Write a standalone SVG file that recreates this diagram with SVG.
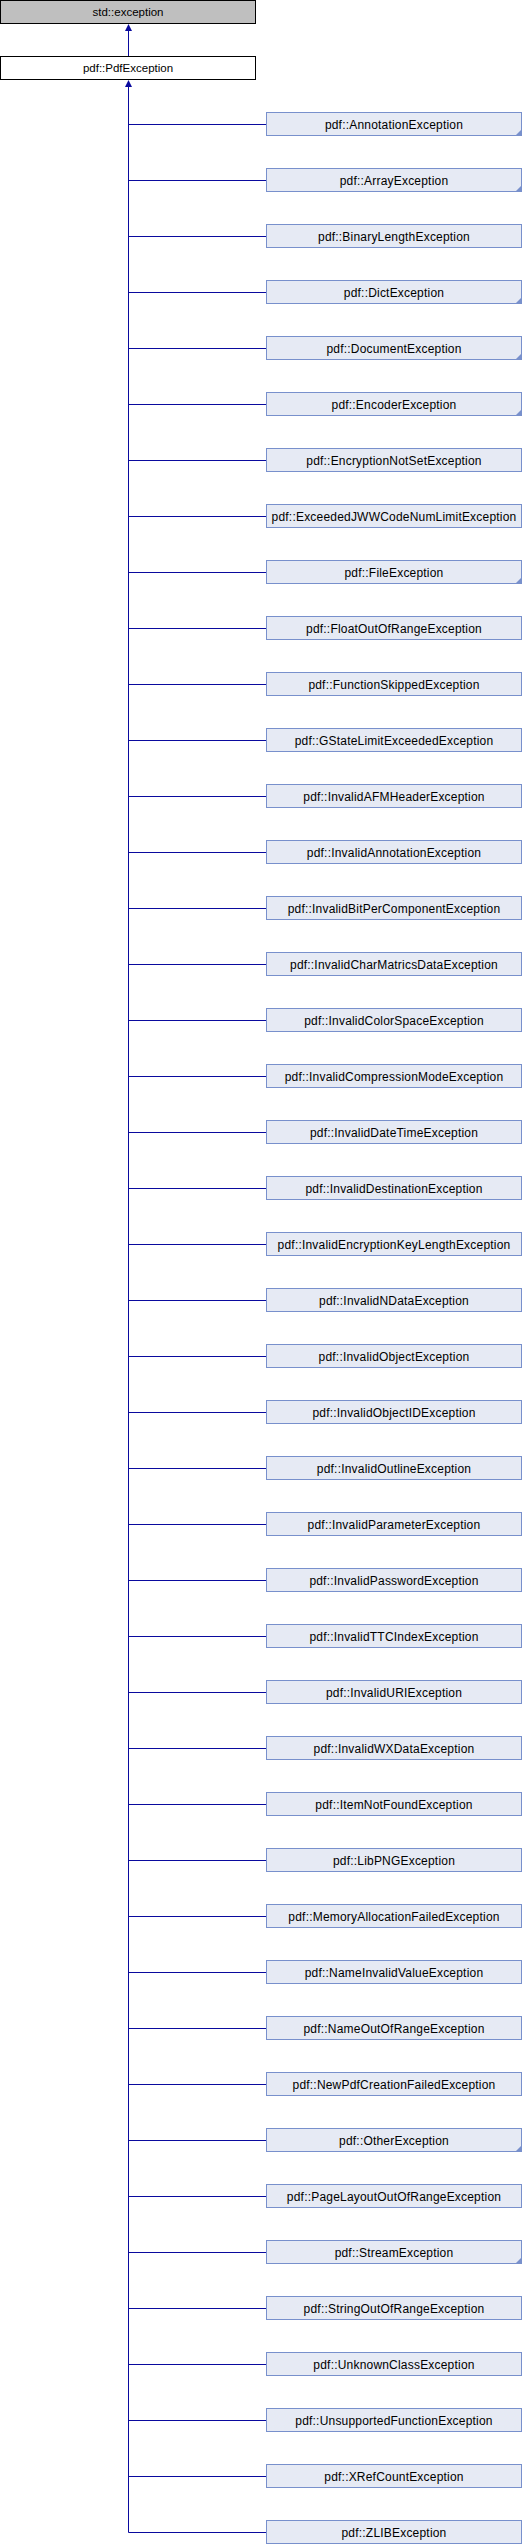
<svg xmlns="http://www.w3.org/2000/svg" width="522" height="2544" viewBox="0 0 522 2544">
<style>
.t{font-family:"Liberation Sans",Arial,sans-serif;font-size:12px;letter-spacing:0.2px;fill:#000;text-anchor:middle}
.tt{font-family:"Liberation Sans",Arial,sans-serif;font-size:11.5px;fill:#000;text-anchor:middle}
.root{fill:#bfbfbf;stroke:#000;stroke-width:1}
.main{fill:#fff;stroke:#000;stroke-width:1}
.cls{fill:#e6eaf4;stroke:#7890cc;stroke-width:1}
.corner{fill:#7890cc;stroke:none}
.e{stroke:#0a0a9e;stroke-width:1;fill:none}
.ah{fill:#0a0a9e}
</style>
<g id="edges">
<path class="e" d="M128.5,56 L128.5,28"/>
<path class="ah" d="M125,31 L128.5,24 L132,31 Z"/>
<path class="e" d="M128.5,2532.5 L128.5,84"/>
<path class="ah" d="M125,87 L128.5,80 L132,87 Z"/>
<path class="e" d="M128.5,124.5H266M128.5,180.5H266M128.5,236.5H266M128.5,292.5H266M128.5,348.5H266M128.5,404.5H266M128.5,460.5H266M128.5,516.5H266M128.5,572.5H266M128.5,628.5H266M128.5,684.5H266M128.5,740.5H266M128.5,796.5H266M128.5,852.5H266M128.5,908.5H266M128.5,964.5H266M128.5,1020.5H266M128.5,1076.5H266M128.5,1132.5H266M128.5,1188.5H266M128.5,1244.5H266M128.5,1300.5H266M128.5,1356.5H266M128.5,1412.5H266M128.5,1468.5H266M128.5,1524.5H266M128.5,1580.5H266M128.5,1636.5H266M128.5,1692.5H266M128.5,1748.5H266M128.5,1804.5H266M128.5,1860.5H266M128.5,1916.5H266M128.5,1972.5H266M128.5,2028.5H266M128.5,2084.5H266M128.5,2140.5H266M128.5,2196.5H266M128.5,2252.5H266M128.5,2308.5H266M128.5,2364.5H266M128.5,2420.5H266M128.5,2476.5H266M128.5,2532.5H266"/>
</g>
<g id="std_exception"><rect class="root" x="0.5" y="0.5" width="255" height="23"/><text class="tt" x="128" y="16">std::exception</text></g>
<g id="PdfException"><rect class="main" x="0.5" y="56.5" width="255" height="23"/><text class="tt" x="128" y="72">pdf::PdfException</text></g>
<g id="AnnotationException" transform="translate(0,112)"><rect class="cls" x="266.5" y="0.5" width="255" height="23"/><path class="corner" d="M521,18 L521,23 L516,23 Z"/><text class="t" x="394" y="16.5">pdf::AnnotationException</text></g>
<g id="ArrayException" transform="translate(0,168)"><rect class="cls" x="266.5" y="0.5" width="255" height="23"/><path class="corner" d="M521,18 L521,23 L516,23 Z"/><text class="t" x="394" y="16.5">pdf::ArrayException</text></g>
<g id="BinaryLengthException" transform="translate(0,224)"><rect class="cls" x="266.5" y="0.5" width="255" height="23"/><text class="t" x="394" y="16.5">pdf::BinaryLengthException</text></g>
<g id="DictException" transform="translate(0,280)"><rect class="cls" x="266.5" y="0.5" width="255" height="23"/><path class="corner" d="M521,18 L521,23 L516,23 Z"/><text class="t" x="394" y="16.5">pdf::DictException</text></g>
<g id="DocumentException" transform="translate(0,336)"><rect class="cls" x="266.5" y="0.5" width="255" height="23"/><path class="corner" d="M521,18 L521,23 L516,23 Z"/><text class="t" x="394" y="16.5">pdf::DocumentException</text></g>
<g id="EncoderException" transform="translate(0,392)"><rect class="cls" x="266.5" y="0.5" width="255" height="23"/><path class="corner" d="M521,18 L521,23 L516,23 Z"/><text class="t" x="394" y="16.5">pdf::EncoderException</text></g>
<g id="EncryptionNotSetException" transform="translate(0,448)"><rect class="cls" x="266.5" y="0.5" width="255" height="23"/><text class="t" x="394" y="16.5">pdf::EncryptionNotSetException</text></g>
<g id="ExceededJWWCodeNumLimitException" transform="translate(0,504)"><rect class="cls" x="266.5" y="0.5" width="255" height="23"/><text class="t" x="394" y="16.5">pdf::ExceededJWWCodeNumLimitException</text></g>
<g id="FileException" transform="translate(0,560)"><rect class="cls" x="266.5" y="0.5" width="255" height="23"/><path class="corner" d="M521,18 L521,23 L516,23 Z"/><text class="t" x="394" y="16.5">pdf::FileException</text></g>
<g id="FloatOutOfRangeException" transform="translate(0,616)"><rect class="cls" x="266.5" y="0.5" width="255" height="23"/><text class="t" x="394" y="16.5">pdf::FloatOutOfRangeException</text></g>
<g id="FunctionSkippedException" transform="translate(0,672)"><rect class="cls" x="266.5" y="0.5" width="255" height="23"/><text class="t" x="394" y="16.5">pdf::FunctionSkippedException</text></g>
<g id="GStateLimitExceededException" transform="translate(0,728)"><rect class="cls" x="266.5" y="0.5" width="255" height="23"/><text class="t" x="394" y="16.5">pdf::GStateLimitExceededException</text></g>
<g id="InvalidAFMHeaderException" transform="translate(0,784)"><rect class="cls" x="266.5" y="0.5" width="255" height="23"/><text class="t" x="394" y="16.5">pdf::InvalidAFMHeaderException</text></g>
<g id="InvalidAnnotationException" transform="translate(0,840)"><rect class="cls" x="266.5" y="0.5" width="255" height="23"/><text class="t" x="394" y="16.5">pdf::InvalidAnnotationException</text></g>
<g id="InvalidBitPerComponentException" transform="translate(0,896)"><rect class="cls" x="266.5" y="0.5" width="255" height="23"/><text class="t" x="394" y="16.5">pdf::InvalidBitPerComponentException</text></g>
<g id="InvalidCharMatricsDataException" transform="translate(0,952)"><rect class="cls" x="266.5" y="0.5" width="255" height="23"/><text class="t" x="394" y="16.5">pdf::InvalidCharMatricsDataException</text></g>
<g id="InvalidColorSpaceException" transform="translate(0,1008)"><rect class="cls" x="266.5" y="0.5" width="255" height="23"/><text class="t" x="394" y="16.5">pdf::InvalidColorSpaceException</text></g>
<g id="InvalidCompressionModeException" transform="translate(0,1064)"><rect class="cls" x="266.5" y="0.5" width="255" height="23"/><text class="t" x="394" y="16.5">pdf::InvalidCompressionModeException</text></g>
<g id="InvalidDateTimeException" transform="translate(0,1120)"><rect class="cls" x="266.5" y="0.5" width="255" height="23"/><text class="t" x="394" y="16.5">pdf::InvalidDateTimeException</text></g>
<g id="InvalidDestinationException" transform="translate(0,1176)"><rect class="cls" x="266.5" y="0.5" width="255" height="23"/><text class="t" x="394" y="16.5">pdf::InvalidDestinationException</text></g>
<g id="InvalidEncryptionKeyLengthException" transform="translate(0,1232)"><rect class="cls" x="266.5" y="0.5" width="255" height="23"/><text class="t" x="394" y="16.5">pdf::InvalidEncryptionKeyLengthException</text></g>
<g id="InvalidNDataException" transform="translate(0,1288)"><rect class="cls" x="266.5" y="0.5" width="255" height="23"/><text class="t" x="394" y="16.5">pdf::InvalidNDataException</text></g>
<g id="InvalidObjectException" transform="translate(0,1344)"><rect class="cls" x="266.5" y="0.5" width="255" height="23"/><text class="t" x="394" y="16.5">pdf::InvalidObjectException</text></g>
<g id="InvalidObjectIDException" transform="translate(0,1400)"><rect class="cls" x="266.5" y="0.5" width="255" height="23"/><text class="t" x="394" y="16.5">pdf::InvalidObjectIDException</text></g>
<g id="InvalidOutlineException" transform="translate(0,1456)"><rect class="cls" x="266.5" y="0.5" width="255" height="23"/><text class="t" x="394" y="16.5">pdf::InvalidOutlineException</text></g>
<g id="InvalidParameterException" transform="translate(0,1512)"><rect class="cls" x="266.5" y="0.5" width="255" height="23"/><text class="t" x="394" y="16.5">pdf::InvalidParameterException</text></g>
<g id="InvalidPasswordException" transform="translate(0,1568)"><rect class="cls" x="266.5" y="0.5" width="255" height="23"/><text class="t" x="394" y="16.5">pdf::InvalidPasswordException</text></g>
<g id="InvalidTTCIndexException" transform="translate(0,1624)"><rect class="cls" x="266.5" y="0.5" width="255" height="23"/><text class="t" x="394" y="16.5">pdf::InvalidTTCIndexException</text></g>
<g id="InvalidURIException" transform="translate(0,1680)"><rect class="cls" x="266.5" y="0.5" width="255" height="23"/><text class="t" x="394" y="16.5">pdf::InvalidURIException</text></g>
<g id="InvalidWXDataException" transform="translate(0,1736)"><rect class="cls" x="266.5" y="0.5" width="255" height="23"/><text class="t" x="394" y="16.5">pdf::InvalidWXDataException</text></g>
<g id="ItemNotFoundException" transform="translate(0,1792)"><rect class="cls" x="266.5" y="0.5" width="255" height="23"/><text class="t" x="394" y="16.5">pdf::ItemNotFoundException</text></g>
<g id="LibPNGException" transform="translate(0,1848)"><rect class="cls" x="266.5" y="0.5" width="255" height="23"/><text class="t" x="394" y="16.5">pdf::LibPNGException</text></g>
<g id="MemoryAllocationFailedException" transform="translate(0,1904)"><rect class="cls" x="266.5" y="0.5" width="255" height="23"/><text class="t" x="394" y="16.5">pdf::MemoryAllocationFailedException</text></g>
<g id="NameInvalidValueException" transform="translate(0,1960)"><rect class="cls" x="266.5" y="0.5" width="255" height="23"/><text class="t" x="394" y="16.5">pdf::NameInvalidValueException</text></g>
<g id="NameOutOfRangeException" transform="translate(0,2016)"><rect class="cls" x="266.5" y="0.5" width="255" height="23"/><text class="t" x="394" y="16.5">pdf::NameOutOfRangeException</text></g>
<g id="NewPdfCreationFailedException" transform="translate(0,2072)"><rect class="cls" x="266.5" y="0.5" width="255" height="23"/><text class="t" x="394" y="16.5">pdf::NewPdfCreationFailedException</text></g>
<g id="OtherException" transform="translate(0,2128)"><rect class="cls" x="266.5" y="0.5" width="255" height="23"/><path class="corner" d="M521,18 L521,23 L516,23 Z"/><text class="t" x="394" y="16.5">pdf::OtherException</text></g>
<g id="PageLayoutOutOfRangeException" transform="translate(0,2184)"><rect class="cls" x="266.5" y="0.5" width="255" height="23"/><text class="t" x="394" y="16.5">pdf::PageLayoutOutOfRangeException</text></g>
<g id="StreamException" transform="translate(0,2240)"><rect class="cls" x="266.5" y="0.5" width="255" height="23"/><path class="corner" d="M521,18 L521,23 L516,23 Z"/><text class="t" x="394" y="16.5">pdf::StreamException</text></g>
<g id="StringOutOfRangeException" transform="translate(0,2296)"><rect class="cls" x="266.5" y="0.5" width="255" height="23"/><text class="t" x="394" y="16.5">pdf::StringOutOfRangeException</text></g>
<g id="UnknownClassException" transform="translate(0,2352)"><rect class="cls" x="266.5" y="0.5" width="255" height="23"/><text class="t" x="394" y="16.5">pdf::UnknownClassException</text></g>
<g id="UnsupportedFunctionException" transform="translate(0,2408)"><rect class="cls" x="266.5" y="0.5" width="255" height="23"/><text class="t" x="394" y="16.5">pdf::UnsupportedFunctionException</text></g>
<g id="XRefCountException" transform="translate(0,2464)"><rect class="cls" x="266.5" y="0.5" width="255" height="23"/><text class="t" x="394" y="16.5">pdf::XRefCountException</text></g>
<g id="ZLIBException" transform="translate(0,2520)"><rect class="cls" x="266.5" y="0.5" width="255" height="23"/><text class="t" x="394" y="16.5">pdf::ZLIBException</text></g>
</svg>
